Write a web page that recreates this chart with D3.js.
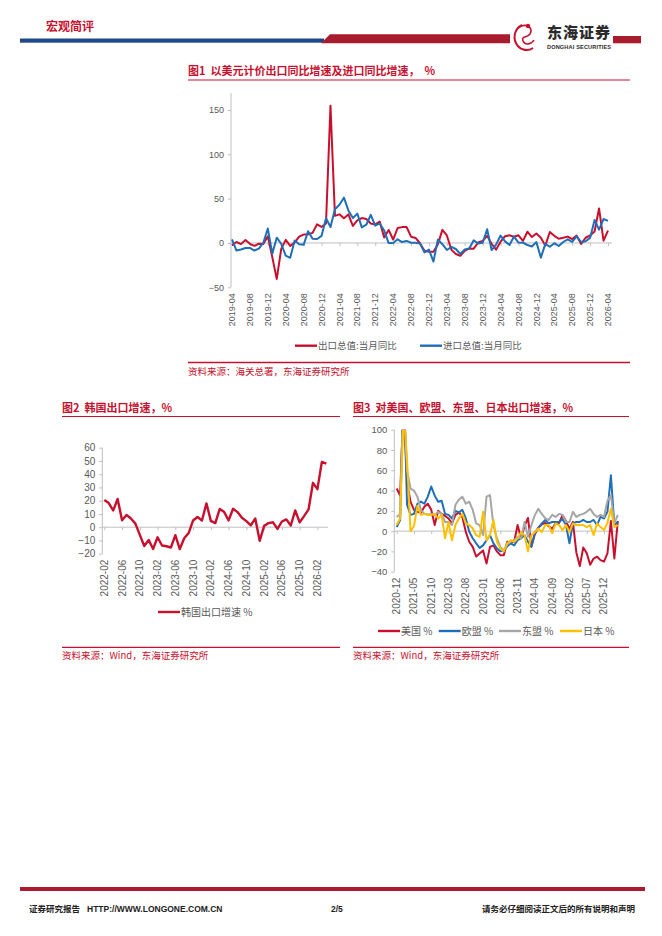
<!DOCTYPE html>
<html>
<head>
<meta charset="utf-8">
<script src="https://cdn.jsdelivr.net/npm/d3@7"></script>
<style>
body{margin:0;background:#fff;}
svg{display:block;font-family:"Liberation Sans",Arial,"Noto Sans CJK SC",sans-serif;}
.cjk{font-family:"Noto Sans CJK SC","Liberation Sans",sans-serif;}
</style>
</head>
<body>
<svg id="page" width="662" height="936"></svg>
<script>
// fig1: China export / import yoy, 2019-04 .. 2026-04
var fig1Start = "2019-04";
var exportYoY = [-2.7,1.1,-1.3,3.3,-1.0,-3.2,-0.9,-1.1,7.6,
	-16,-40.6,-6.6,3.5,-3.3,0.5,7.2,9.5,9.9,11.4,21.1,18.1,
	22,154.9,30.6,32.3,27.9,32.2,19.3,25.6,28.1,27.1,22.0,20.9,
	24.1,6.2,14.7,3.9,16.9,17.9,18.0,7.1,5.7,-0.3,-8.7,-9.9,
	-10.0,-1.3,14.8,8.5,-7.5,-12.4,-14.5,-8.8,-6.2,-6.4,0.5,2.3,
	8.0,-1.0,-7.5,1.5,7.6,8.6,7.0,8.7,2.4,12.7,6.7,10.7,
	6.0,-3.0,12.4,8.1,4.8,5.8,7.2,4.4,8.3,-1.1,5.9,8.5,
	13,39,2.6,14];
var importYoY = [4.0,-8.5,-7.3,-5.6,-5.6,-8.5,-6.4,0.3,16.3,
	-12,6,-0.9,-14.2,-16.7,2.7,-1.4,-2.1,13.2,4.7,4.5,8,
	28,18,38.1,43.1,51.1,36.7,28.1,33.1,17.6,20.6,31.7,19.5,
	22,14,-0.1,0.0,4.1,1.0,2.3,0.3,0.3,-0.7,-10.6,-7.5,
	-21,4,-1.4,-7.9,-4.5,-6.8,-12.4,-7.3,-6.2,3.0,-0.6,0.2,
	15.5,-8,-1.9,8.4,1.8,-2.3,7.2,0.5,0.3,-2.3,-3.9,1.0,
	-16.5,-1,-4.3,-0.2,-3.4,1.1,4.1,1.3,7.4,1.0,1.9,5.7,
	26,15,27,25];
var fig1YTicks = [-50,0,50,100,150];

// fig2: Korea export yoy, 2022-02 .. 2026-04
var fig2Start = "2022-02";
var koreaExport = [20.6,18.2,12.6,21.3,5.2,9.2,6.6,2.7,-5.8,-14.2,-9.6,
	-16.4,-7.6,-13.8,-14.4,-15.3,-6.0,-16.5,-8.3,-4.4,5.1,7.7,5.0,
	18.0,4.8,3.1,13.8,11.5,5.1,13.9,11.4,7.1,4.6,1.4,6.6,
	-10.3,1.0,3.1,3.7,-1.3,4.3,5.9,1.3,12.7,3.6,8.4,13.4,
	33.5,28.7,49.3,48];
var fig2YTicks = [-20,-10,0,10,20,30,40,50,60];

// fig3: exports to US / EU / ASEAN / Japan, 2020-12 .. 2026-04
var fig3Start = "2020-12";
var usExport = [42,35,130,48,29,21,19,18,24,27,21,6,20,17,15,12.5,7.6,16,18.4,14,-0.7,-10.5,-15.5,-25,-22,
	-19,-32,-15.5,-14,-20,-23.7,-23.7,-10.5,-11,-10.5,6,-7,5,13,-15,-3,3.6,6.6,8.1,4.9,2.2,8.1,8,15.6,
	10,2,9.1,-21,-34.5,-16.1,-21.7,-33.1,-27,-25.2,-28.6,-30,-22,10,-27,10];
var euExport = [4,11,150,26,16,17,27,29,27,34,44,35,29,30,17,16,12.5,20,18.4,21,12.5,-0.7,-7,-12,-16.5,
	-14,-9,-4,-12,-17,-20,-19,-15,-12,-14,-9,-7,-4,-10.5,-15.5,-1,3,7.6,11,7.6,9,9,9,12,
	6,-12,7.6,9,9,11,9,9,11,6,14,12.5,19,55,6,9];
var aseanExport = [14,17,140,60,42,40,34,21,17,16.5,17,16,19,17,9,9,6,26,31,34,27,29,21,7.6,6,
	-4,34,35.5,6,-7,-15.5,-19,-13,-10.5,-9,-5.6,-7,9,-5.6,6,16,22,17,12.5,11,16,14,17,16,
	9,9,19,14,16,17,19,22,17,14,16,14,30,35.5,7.6,16];
var japanExport = [6,12.5,120,70,0,5,25,16,17,16,16,17,12.5,16,-7,9,-9,6,12.5,17,7.6,6,2.6,-4,-5.6,
	19,-9,-4,11,-10.5,-17,-20,-12,-9,-10.5,-7,-1,-4,-20,-4,-1,2.6,-1,6,6,-2,7.6,6,1,
	6,-1,7.6,6,6,6,4,6,-4,7.6,4,1,8,22,4,6];
var fig3YTicks = [-40,-20,0,20,40,60,80,100];

var RED = "#C8102E", BLUE = "#1F6FB8", GRAY = "#A6A6A6", YELLOW = "#FFC000";
var TXT = "#595959", AXIS = "#BFBFBF", DARKRED = "#A81C2E";

var svg = d3.select("#page");
svg.append("rect").attr("width",662).attr("height",936).attr("fill","#fff");

function monthList(start, n){
	var t0 = d3.timeParse("%Y-%m")(start);
	return d3.range(n).map(function(i){ return d3.timeFormat("%Y-%m")(d3.timeMonth.offset(t0, i)); });
}

function header(){
	svg.append("text").attr("class","cjk").attr("x",46).attr("y",30.5)
		.attr("font-size",12).attr("font-weight","bold").attr("fill",RED).text("宏观简评");
	svg.append("rect").attr("x",20).attr("y",38.5).attr("width",304).attr("height",4.2).attr("fill","#1F4A87");
	svg.append("path").attr("d","M321,43.3 L330,34.2 L510,34.2 L510,43.3 Z").attr("fill",DARKRED);
	svg.append("rect").attr("x",613).attr("y",36).attr("width",28).attr("height",7.3).attr("fill",DARKRED);
	// logo
	var lg = svg.append("g").attr("transform","translate(524,38)");
	lg.append("path").attr("d","M-2,-13 A12,13 0 1,0 9,10").attr("fill","none").attr("stroke",RED).attr("stroke-width",2);
	lg.append("path").attr("d","M-6,-10 C2,-16 10,-10 6,-4 C3,0 -3,-2 -1,3 C1,8 8,6 10,2").attr("fill","none").attr("stroke",RED).attr("stroke-width",1.6);
	lg.append("circle").attr("cx",4).attr("cy",-12).attr("r",2.2).attr("fill",RED);
	svg.append("text").attr("class","cjk").attr("x",547).attr("y",37.5).attr("font-size",15)
		.attr("font-weight","900").attr("fill","#2B2B2B").attr("textLength",63).text("东海证券");
	svg.append("text").attr("x",547).attr("y",48.8).attr("font-size",5.6).attr("font-weight","bold")
		.attr("fill","#2B2B2B").attr("textLength",64).text("DONGHAI SECURITIES");
}

function footer(){
	svg.append("rect").attr("x",20).attr("y",887).attr("width",625).attr("height",4).attr("fill",DARKRED);
	var ft = svg.append("g").attr("font-size",8.5).attr("font-weight","bold").attr("fill","#222");
	ft.append("text").attr("class","cjk").attr("x",29).attr("y",911.5).text("证券研究报告");
	ft.append("text").attr("x",87).attr("y",911.5).text("HTTP://WWW.LONGONE.COM.CN");
	ft.append("text").attr("x",331).attr("y",911.5).text("2/5");
	ft.append("text").attr("class","cjk").attr("x",635).attr("y",911.5).attr("text-anchor","end").text("请务必仔细阅读正文后的所有说明和声明");
}

function frame(cfg){
	svg.append("text").attr("class","cjk").attr("x",cfg.left).attr("y",cfg.titleY)
		.attr("font-size",11).attr("font-weight","bold").attr("fill",RED)
		.style("white-space","pre").text(cfg.title);
	svg.append("line").attr("x1",cfg.left).attr("x2",cfg.right).attr("y1",cfg.titleY+5).attr("y2",cfg.titleY+5)
		.attr("stroke",RED).attr("stroke-width",1);
	svg.append("line").attr("x1",cfg.left).attr("x2",cfg.right).attr("y1",cfg.srcLineY).attr("y2",cfg.srcLineY)
		.attr("stroke",RED).attr("stroke-width",1.3);
	svg.append("text").attr("class","cjk").attr("x",cfg.left).attr("y",cfg.srcLineY+12)
		.attr("font-size",9.5).attr("fill",RED).text(cfg.source);
}

function chart(cfg){
	var n = cfg.series[0].values.length;
	var months = monthList(cfg.start, n);
	var g = svg.append("g");
	var x = d3.scaleLinear().domain([0, n-1]).range([cfg.x0, cfg.x1]);
	var y = d3.scaleLinear().domain([cfg.yTicks[0], cfg.yTicks[cfg.yTicks.length-1]]).range([cfg.yBottom, cfg.yTop]);

	// y axis
	var ya = g.append("g").attr("transform","translate("+cfg.axisX+",0)")
		.call(d3.axisLeft(y).tickValues(cfg.yTicks).tickSize(3).tickPadding(4).tickFormat(d3.format("d")));
	ya.select(".domain").remove();
	ya.selectAll("line").attr("stroke",AXIS);
	ya.selectAll("text").attr("fill",TXT).attr("font-size",cfg.yFont).attr("font-family",null);
	g.append("line").attr("x1",cfg.axisX).attr("x2",cfg.axisX)
		.attr("y1",cfg.axisTop).attr("y2",y(cfg.yTicks[0])).attr("stroke",AXIS);

	// zero line with category ticks
	var xa = g.append("g").attr("transform","translate(0,"+y(0)+")")
		.call(d3.axisBottom(x).tickValues(d3.range(0, n, cfg.every)).tickSize(3).tickFormat(""));
	xa.select(".domain").remove();
	xa.selectAll("line").attr("stroke",AXIS);
	g.append("line").attr("x1",cfg.axisX).attr("x2",cfg.zeroEnd).attr("y1",y(0)).attr("y2",y(0)).attr("stroke",AXIS);

	// rotated month labels at the bottom
	g.selectAll("text.mlab").data(d3.range(0, n, cfg.every)).enter()
		.append("text").attr("class","mlab")
		.attr("transform",function(i){ return "translate("+(x(i)+cfg.xFont*0.35)+","+(y(cfg.yTicks[0])+6)+") rotate(-90)"; })
		.attr("text-anchor","end").attr("font-size",cfg.xFont).attr("fill",TXT)
		.text(function(i){ return months[i]; });

	// lines
	var clipId = "clip"+cfg.id;
	svg.append("clipPath").attr("id",clipId).append("rect")
		.attr("x",cfg.axisX).attr("y",y(cfg.yTicks[cfg.yTicks.length-1]))
		.attr("width",cfg.zeroEnd-cfg.axisX+4).attr("height",y(cfg.yTicks[0])-y(cfg.yTicks[cfg.yTicks.length-1]));
	var line = d3.line().x(function(d,i){ return x(i); }).y(function(d){ return y(d); });
	g.append("g").attr("clip-path", cfg.clip ? "url(#"+clipId+")" : null)
		.selectAll("path.s").data(cfg.series).enter()
		.append("path").attr("class","s")
		.attr("d",function(s){ return line(s.values); })
		.attr("fill","none").attr("stroke",function(s){ return s.color; })
		.attr("stroke-width",cfg.lw).attr("stroke-linejoin","round");

	// legend
	var lg = g.selectAll("g.lg").data(cfg.series).enter().append("g").attr("class","lg")
		.attr("transform",function(s,i){ return "translate("+cfg.legendX[i]+","+cfg.legendY+")"; });
	lg.append("line").attr("x1",0).attr("x2",22).attr("stroke",function(s){ return s.color; }).attr("stroke-width",2.4);
	lg.append("text").attr("class","cjk").attr("x",23).attr("y",3.5).attr("font-size",cfg.legendFont)
		.attr("fill",TXT).text(function(s){ return s.name; });
}

header();

frame({left:188, right:630, titleY:75, title:"图1  以美元计价出口同比增速及进口同比增速，  %",
	srcLineY:362.5, source:"资料来源：海关总署，东海证券研究所"});
chart({id:1, start:fig1Start, every:4, yTicks:fig1YTicks,
	axisX:231, axisTop:93, x0:232, x1:608, yBottom:287.3, yTop:287.3-177.3*1.0, zeroEnd:612,
	yFont:9, xFont:9, lw:2, clip:false,
	legendX:[295,420], legendY:345.7, legendFont:9.5,
	series:[{name:"出口总值:当月同比", color:RED, values:exportYoY},
		{name:"进口总值:当月同比", color:BLUE, values:importYoY}]});

frame({left:62, right:340, titleY:411.5, title:"图2  韩国出口增速，%",
	srcLineY:647.3, source:"资料来源：Wind，东海证券研究所"});
chart({id:2, start:fig2Start, every:4, yTicks:fig2YTicks,
	axisX:102.3, axisTop:447.7, x0:104.3, x1:326.3, yBottom:553.7, yTop:447.7, zeroEnd:328,
	yFont:10, xFont:10, lw:2.4, clip:false,
	legendX:[158], legendY:612, legendFont:10,
	series:[{name:"韩国出口增速 %", color:RED, values:koreaExport}]});

frame({left:353, right:629, titleY:411.5, title:"图3  对美国、欧盟、东盟、日本出口增速，%",
	srcLineY:647.3, source:"资料来源：Wind，东海证券研究所"});
chart({id:3, start:fig3Start, every:5, yTicks:fig3YTicks,
	axisX:394.3, axisTop:429.7, x0:396.7, x1:617.8, yBottom:571.7, yTop:429.7, zeroEnd:619,
	yFont:9.5, xFont:10, lw:2, clip:true,
	legendX:[378,438.7,499,560], legendY:631, legendFont:10,
	series:[{name:"美国 %", color:RED, values:usExport},
		{name:"欧盟 %", color:BLUE, values:euExport},
		{name:"东盟 %", color:GRAY, values:aseanExport},
		{name:"日本 %", color:YELLOW, values:japanExport}]});

footer();
</script>
</body>
</html>
